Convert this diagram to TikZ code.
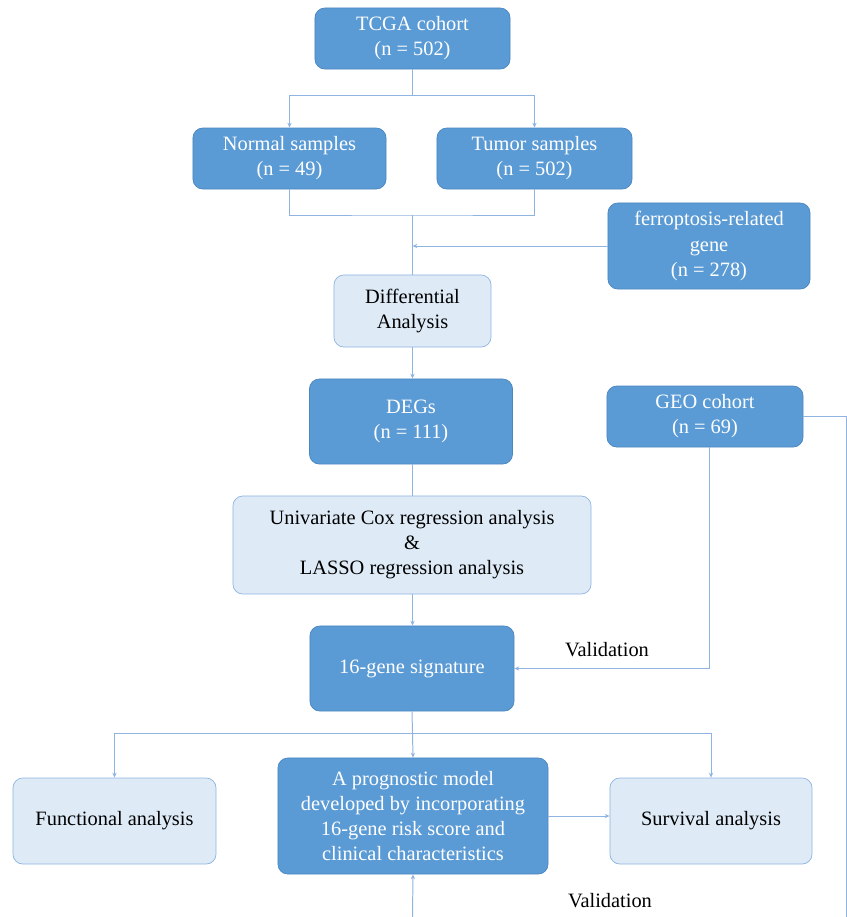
\documentclass[tikz,border=0pt]{standalone}
\usepackage{fontspec}
\setmainfont{Liberation Serif}
\usepackage{tikz}
\usetikzlibrary{calc,positioning,arrows.meta}
\definecolor{darkbox}{RGB}{91,155,213}
\definecolor{darkline}{RGB}{74,134,192}
\definecolor{lightbox}{RGB}{222,235,247}
\definecolor{lightline}{RGB}{143,180,226}
\definecolor{conline}{RGB}{143,180,226}

\begin{document}
\begin{tikzpicture}[x=0.025cm,y=-0.025cm,
  blk/.style={rectangle,rounded corners=7pt,fill=darkbox,draw=darkline,line width=.5pt,text=white,align=center,inner sep=0pt,font=\fontsize{14.5}{17.8}\selectfont},
  lblk/.style={rectangle,rounded corners=7pt,fill=lightbox,draw=lightline,line width=.5pt,text=black,align=center,inner sep=0pt,font=\fontsize{14.5}{17.8}\selectfont},
  con/.style={draw=conline,line width=.7pt},
  arr/.style={con,-{Stealth[length=3.5pt,width=3pt]}},
  lbl/.style={font=\fontsize{14.5}{17.8}\selectfont,text=black}]

              \useasboundingbox (0,0) rectangle (847,917);

              \node[blk,minimum width=4.875cm,minimum height=1.525cm] (tcga) at (412.5,38.5) {TCGA cohort\\(n = 502)};
              \node[blk,minimum width=4.825cm,minimum height=1.525cm] (normal) at (289.5,158.5) {Normal samples\\(n = 49)};
              \node[blk,minimum width=4.875cm,minimum height=1.525cm] (tumor) at (534.5,158.5) {Tumor samples\\(n = 502)};
              \node[blk,minimum width=5.05cm,minimum height=2.15cm] (ferro) at (709,246) {ferroptosis-related\\gene\\(n = 278)};
              \node[lblk,minimum width=3.925cm,minimum height=1.8cm] (diff) at (412.5,311) {Differential\\Analysis};
              \node[blk,minimum width=5.075cm,minimum height=2.125cm] (degs) at (411,421.5) {DEGs\\(n = 111)};
              \node[blk,minimum width=4.9cm,minimum height=1.525cm] (geo) at (705,416.5) {GEO cohort\\(n = 69)};
              \node[lblk,minimum width=8.95cm,minimum height=2.45cm] (cox) at (412,545) {Univariate Cox regression analysis\\\&\\LASSO regression analysis};
              \node[blk,minimum width=5.1cm,minimum height=2.125cm] (sig) at (412,668.5) {16-gene signature};
              \node[lblk,minimum width=5.075cm,minimum height=2.15cm] (func) at (114.5,821) {Functional analysis};
              \node[blk,minimum width=6.75cm,minimum height=2.9cm] (model) at (413,816) {A prognostic model\\developed by incorporating\\16-gene risk score and\\clinical characteristics};
              \node[lblk,minimum width=5.05cm,minimum height=2.15cm] (surv) at (711,821) {Survival analysis};

              \node[lbl] (val1) at (607,650) {Validation};
              \node[lbl] (val2) at (610,901) {Validation};

              \coordinate (j1) at (412.5,95);
              \coordinate (j2) at (412.5,215);
              \coordinate (j3) at (412.5,733);
              \coordinate (gend) at (846,917);
              \coordinate (mend) at (412.5,917);

              \draw[con] (tcga.south) -- (j1);
              \draw[arr] (j1) -| (normal.north);
              \draw[arr] (j1) -| (tumor.north);
              \draw[con] (normal.south) |- (j2) -| (tumor.south);
              \draw[con] (j2) -- (diff.north);
              \draw[arr] (ferro.west) -- (ferro.west -| diff.north);
              \draw[arr] (diff.south) -- (diff.south |- degs.north);
              \draw[con] (diff.south |- degs.south) -- (diff.south |- cox.north);
              \draw[arr] (diff.south |- cox.south) -- (diff.south |- sig.north);
              \draw[arr] ([xshift=3pt]geo.south) |- (sig.east);
              \draw[con] (geo.east) -| (gend);
              \draw[con] (sig.south) -- (j3);
              \draw[arr] (j3) -| (func.north);
              \draw[arr] (j3) -| (surv.north);
              \draw[arr] (j3) -- (model.north);
              \draw[arr] (model.east) -- (model.east -| surv.west);
              \draw[arr] (mend) -- (model.south);
\end{tikzpicture}
\end{document}
